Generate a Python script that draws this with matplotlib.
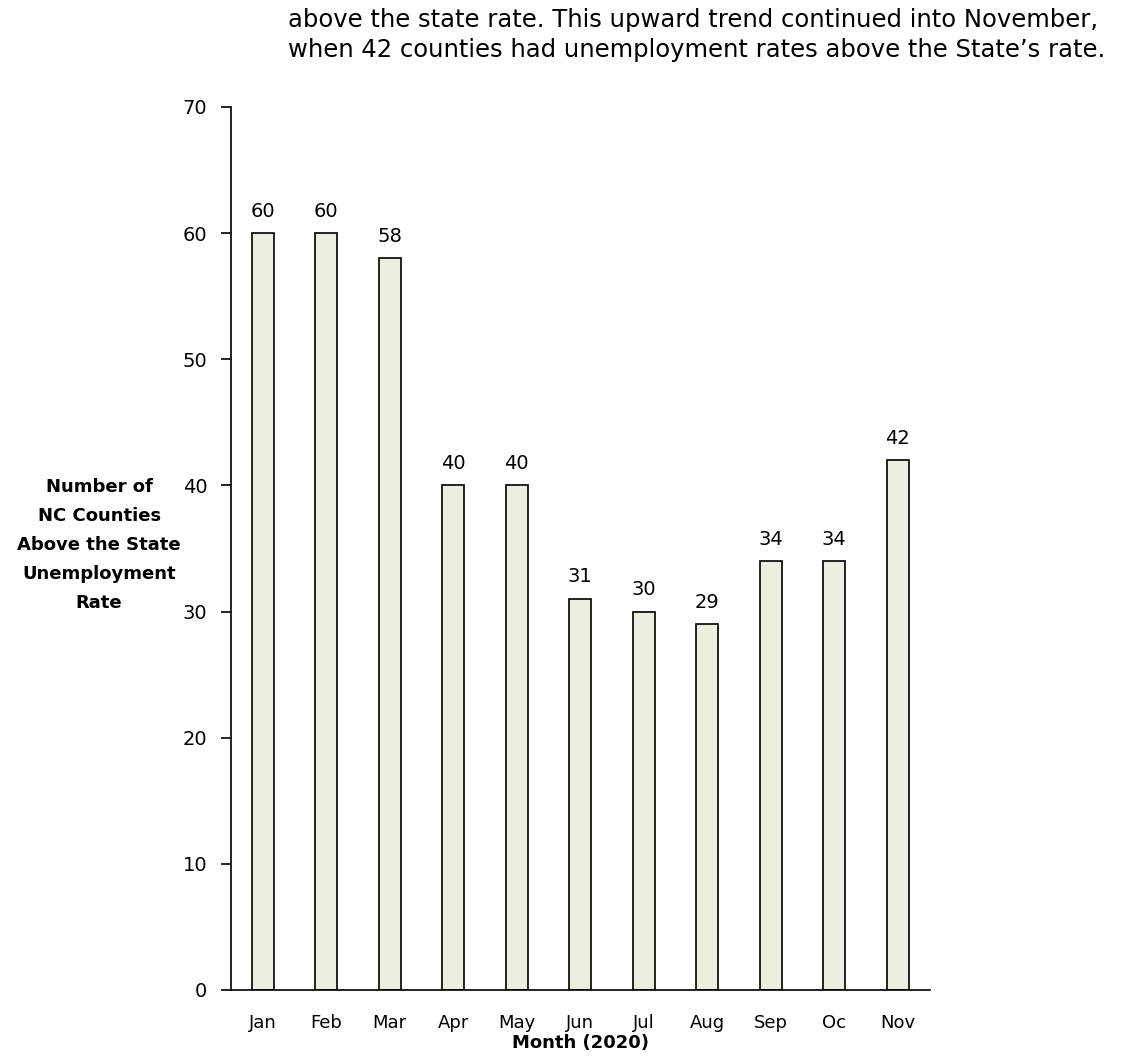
import matplotlib.pyplot as plt

plt.rcParams['font.family'] = ['DejaVu Sans']

months = ['Jan', 'Feb', 'Mar', 'Apr', 'May', 'Jun', 'Jul', 'Aug', 'Sep', 'Oc', 'Nov']
counties_above = [60, 60, 58, 40, 40, 31, 30, 29, 34, 34, 42]

fig = plt.figure(figsize=(11.26, 10.57), dpi=100)
ax = fig.add_axes([0.2052, 0.0634, 0.6203, 0.8354])

x = range(len(months))
bars = ax.bar(x, counties_above, width=0.35, color='#ECEEDF', edgecolor='black', linewidth=1.2)
for b, v in zip(bars, counties_above):
    ax.annotate(str(v), (b.get_x() + b.get_width() / 2, v), xytext=(0, 9),
                textcoords='offset points', ha='center', va='bottom', fontsize=14)

ax.set_xlim(-0.5, len(months) - 0.5)
ax.set_ylim(0, 70)
ax.set_yticks(range(0, 71, 10))
ax.set_xticks(list(x))
ax.set_xticklabels(months)
ax.tick_params(axis='y', labelsize=14, length=7, width=1.2, pad=10)
ax.tick_params(axis='x', labelsize=13, length=0, pad=17)
for s in ['top', 'right']:
    ax.spines[s].set_visible(False)
ax.spines['left'].set_linewidth(1.2)
ax.spines['bottom'].set_linewidth(1.2)

ax.set_xlabel('Month (2020)', fontsize=13, fontweight='bold', labelpad=2)
fig.text(0.088, 0.4844, 'Number of\nNC Counties\nAbove the State\nUnemployment\nRate',
         ha='center', va='center', fontsize=13, fontweight='bold', linespacing=1.8)

fig.text(0.256, 0.981, 'above the state rate. This upward trend continued into November,',
         ha='left', va='center', fontsize=17.5)
fig.text(0.256, 0.953, 'when 42 counties had unemployment rates above the State\u2019s rate.',
         ha='left', va='center', fontsize=17.5)

fig.savefig('out.png', dpi=100)
